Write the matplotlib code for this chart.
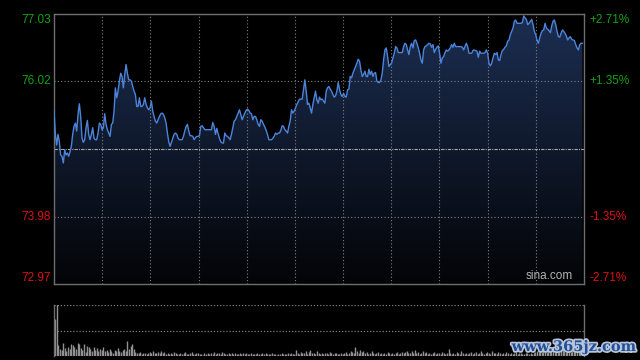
import numpy as np
import matplotlib
matplotlib.use("Agg")
import matplotlib.pyplot as plt
from matplotlib.colors import LinearSegmentedColormap
import matplotlib.patheffects as pe

# session: 330 trading minutes, previous close 75.00
prev_close = 75.00
y_low, y_high = 72.97, 77.03

price = [
    75.59, 75.22, 75.06, 75.22, 75.11, 74.91, 74.89, 74.79, 74.99, 74.91, 74.94, 74.89, 74.96, 75.04,
    75.22, 75.34, 75.39, 75.27, 75.52, 75.68, 75.49, 75.16, 75.10, 75.14, 75.32, 75.43, 75.22, 75.14,
    75.22, 75.32, 75.16, 75.14, 75.14, 75.24, 75.39, 75.37, 75.29, 75.32, 75.53, 75.37, 75.29, 75.24,
    75.19, 75.37, 75.39, 75.57, 75.92, 75.77, 75.87, 76.02, 76.14, 76.09, 75.92, 76.12, 76.27, 76.14,
    76.04, 76.04, 76.02, 75.94, 75.87, 75.82, 75.64, 75.64, 75.77, 75.64, 75.64, 75.67, 75.77, 75.67,
    75.62, 75.59, 75.62, 75.72, 75.57, 75.49, 75.42, 75.39, 75.44, 75.49, 75.53, 75.54, 75.52, 75.47,
    75.39, 75.24, 75.11, 75.04, 75.10, 75.16, 75.22, 75.24, 75.22, 75.16, 75.14, 75.14, 75.14, 75.19,
    75.27, 75.34,
    75.37, 75.27, 75.20, 75.20, 75.19, 75.14, 75.17, 75.19, 75.19, 75.20, 75.34, 75.35, 75.32, 75.29,
    75.29, 75.29, 75.29, 75.29, 75.29, 75.40, 75.34, 75.22, 75.31, 75.23, 75.16, 75.11, 75.09, 75.09,
    75.24, 75.20, 75.19, 75.17, 75.14, 75.22, 75.32, 75.42, 75.44, 75.49, 75.54, 75.59, 75.52, 75.44,
    75.49, 75.54, 75.58, 75.60, 75.58, 75.54, 75.53, 75.44, 75.49, 75.49, 75.44, 75.37, 75.34, 75.44,
    75.42, 75.37, 75.33, 75.28, 75.22, 75.14, 75.14, 75.14, 75.16, 75.19, 75.24, 75.22, 75.24, 75.24,
    75.28, 75.35, 75.34, 75.29, 75.27, 75.24, 75.34, 75.42, 75.59, 75.54, 75.57, 75.62, 75.67, 75.71,
    75.75, 75.75, 75.75, 75.89, 76.04, 75.87, 75.67, 75.69, 75.62, 75.54, 75.67, 75.77, 75.87, 75.74,
    75.69, 75.78, 75.74, 75.75, 75.72, 75.69, 75.87, 75.92, 75.94, 75.90, 75.87, 75.82, 75.78, 75.80,
    75.87, 76.00, 75.89, 75.82, 75.79, 75.84, 75.79, 75.78, 75.89, 75.90, 76.09, 76.07, 76.14, 76.19,
    76.24, 76.29, 76.35, 76.32, 76.19, 76.09, 76.12, 76.17, 76.09, 76.09, 76.20, 76.12, 76.17, 76.09,
    76.14, 76.15, 76.02, 76.00, 76.00, 76.04, 76.14, 76.34, 76.49, 76.52, 76.39, 76.24, 76.27, 76.29,
    76.37, 76.44, 76.54, 76.52, 76.45, 76.45, 76.45, 76.45, 76.54, 76.59, 76.57, 76.49, 76.42, 76.54,
    76.59, 76.52, 76.63, 76.64, 76.59, 76.52, 76.44, 76.34, 76.29, 76.49, 76.54, 76.55, 76.57, 76.59,
    76.58, 76.53, 76.57, 76.45, 76.50, 76.53, 76.55, 76.44, 76.29, 76.37, 76.39, 76.45, 76.49, 76.47,
    76.49, 76.52, 76.57, 76.53, 76.59, 76.54, 76.54, 76.54, 76.54, 76.54, 76.53, 76.49, 76.54, 76.59,
    76.54, 76.44, 76.44, 76.44, 76.48, 76.49, 76.48, 76.47, 76.38, 76.47, 76.44, 76.44, 76.44, 76.45,
    76.49, 76.44, 76.29, 76.25, 76.29, 76.37, 76.44, 76.42, 76.45, 76.34, 76.33, 76.42, 76.48, 76.50,
    76.53, 76.55, 76.62, 76.64, 76.72, 76.77, 76.82, 76.92, 76.94, 76.89, 76.89, 76.89, 76.89, 76.90,
    77.00, 76.97, 76.95, 76.87, 76.89, 76.92, 76.95, 76.87, 76.77, 76.72, 76.64, 76.59, 76.67, 76.74,
    76.78, 76.79, 76.89, 76.82, 76.80, 76.78, 76.75, 76.85, 76.92, 76.94, 76.87, 76.77, 76.69, 76.68,
    76.74, 76.79, 76.77, 76.74, 76.70, 76.64, 76.67, 76.69, 76.65, 76.64, 76.63, 76.57, 76.52, 76.49,
    76.57, 76.59, 76.59,
]

# volume per minute, scaled so that 100 = top of the volume panel
volume = [
    72, 160, 22, 14, 12, 26, 16, 10, 18, 14, 24, 21, 18, 13, 26, 24, 16, 12, 24, 8, 20, 17, 14, 10, 18, 12, 16, 9, 14, 11,
    18, 10, 12, 8, 14, 10, 6, 12, 9, 16, 10, 8, 11, 14, 9, 30, 14, 20, 24, 13, 8, 6, 5, 7, 4, 5, 6, 3, 5, 7,
    6, 9, 5, 6, 8, 5, 10, 6, 7, 4, 5, 3, 6, 4, 7, 5, 3, 4, 6, 3, 5, 8, 4, 3, 5, 7, 3, 4, 6, 5,
    3, 4, 2, 5, 4, 6, 3, 5, 4, 7, 3, 5, 6, 4, 8, 5, 3, 4, 6, 3, 5, 4, 6, 3, 4, 5, 3, 6, 4, 5,
    3, 4, 5, 3, 4, 3, 5, 4, 3, 6, 4, 5, 3, 4, 3, 5, 4, 3, 2, 4, 3, 5, 4, 3, 4, 6, 3, 5, 4, 3,
    12, 5, 4, 8, 5, 6, 10, 4, 7, 12, 5, 6, 4, 9, 5, 3, 6, 4, 5, 6, 4, 7, 5, 4, 6, 5, 4, 3, 6, 4,
    5, 7, 4, 6, 9, 8, 5, 17, 10, 6, 12, 7, 10, 5, 8, 4, 6, 9, 5, 4, 6, 8, 4, 5, 3, 6, 4, 7, 5, 4,
    6, 4, 5, 7, 4, 6, 8, 5, 7, 10, 6, 5, 9, 6, 12, 5, 8, 4, 6, 10, 5, 7, 4, 6, 3, 5, 8, 4, 6, 5,
    4, 7, 5, 3, 6, 13, 5, 4, 6, 3, 7, 5, 4, 10, 6, 4, 5, 3, 6, 8, 4, 5, 7, 4, 6, 9, 5, 4, 6, 8,
    5, 4, 10, 6, 5, 4, 7, 5, 3, 6, 4, 8, 5, 4, 6, 3, 5, 7, 4, 6, 5, 4, 3, 5, 6, 4, 5, 3, 6, 8,
    10, 7, 12, 8, 14, 9, 7, 11, 13, 8, 10, 15, 9, 12, 8, 10, 14, 9, 7, 11, 12, 8, 10, 9, 13, 7, 10, 11, 9, 8,
]

left_ticks = [77.03, 76.02, 73.98, 72.97]
right_labels = ["+2.71%", "+1.35%", "-1.35%", "-2.71%"]
grid_minutes = [30, 60, 90, 120, 150, 180, 210, 240, 270, 300]

GREEN = "#13a313"
RED = "#dd1111"
GRID = "#808080"
EDGE = "#6e6e6e"
FONT = "Liberation Sans"

fig = plt.figure(figsize=(6.4, 3.6), dpi=100, facecolor="black")
ax = fig.add_axes([54 / 640, 1 - 284 / 360, 530 / 640, 270 / 360])
vax = fig.add_axes([54 / 640, 1 - 356 / 360, 530 / 640, 51 / 360])

t = np.linspace(0, 329, len(price))

ax.set_facecolor("black")
ax.set_xlim(0, 330)
ax.set_ylim(y_low, y_high)

# gradient fill under the price line
cmap = LinearSegmentedColormap.from_list("fill", ["#030406", "#1c2e52"])
grad = np.linspace(1, 0, 256).reshape(-1, 1)
im = ax.imshow(grad, extent=[0, 330, y_low, y_high], aspect="auto", cmap=cmap,
               origin="upper", zorder=1)
poly = ax.fill_between(t, price, y_low, color="none", linewidth=0)
im.set_clip_path(poly.get_paths()[0], transform=ax.transData)

# grid
for m in grid_minutes:
    ax.axvline(m, color=GRID, lw=0.8, ls=(0, (1, 2)), zorder=2)
for p in [76.02, 73.98]:
    ax.axhline(p, color=GRID, lw=0.8, ls=(0, (1, 2)), zorder=2)
ax.axhline(prev_close, color="#a8a8a8", lw=0.8, ls=(0, (3, 1, 1, 1)), zorder=2)

ax.plot(t, price, color="#4c84dc", lw=1.0, zorder=3)

for s in ax.spines.values():
    s.set_color(EDGE)
    s.set_linewidth(1)
ax.set_xticks([])
ax.set_yticks([])

ytr = ax.get_yaxis_transform()
for i, (p, lab) in enumerate(zip(left_ticks, right_labels)):
    col = GREEN if p > prev_close else RED
    va = "center"
    if i == 0:
        va = "top"
    elif i == len(left_ticks) - 1:
        va = "bottom"
    ax.text(-0.006, p, f"{p:.2f}", transform=ytr, ha="right", va=va,
            color=col, fontsize=8.5, family=FONT)
    ax.text(1.011, p, lab, transform=ytr, ha="left", va=va,
            color=col, fontsize=8.5, family=FONT)

ax.text(0.979, 0.006, "sina.com", transform=ax.transAxes, ha="right", va="bottom",
        color="#b4b4b4", fontsize=8.5, family=FONT)

# volume panel
vax.set_facecolor("black")
vax.set_xlim(0, 330)
vax.set_ylim(0, 100)
vt = np.arange(len(volume)) + 0.7
vax.vlines(vt, 0, volume, color="#929292", lw=1.0)
for h in [100, 50, 0.5]:
    vax.axhline(h, color=GRID, lw=0.9, ls=(0, (1, 1.5)))
vax.spines["top"].set_visible(False)
vax.spines["bottom"].set_visible(False)
for k in ["left", "right"]:
    vax.spines[k].set_color(EDGE)
    vax.spines[k].set_linewidth(1)
vax.set_xticks([])
vax.set_yticks([])

fig.text(574 / 640, 1 - 347 / 360, "www.365jz.com", ha="center", va="center",
         color="#1f4f9c", fontsize=10.5, fontweight="bold", family="DejaVu Serif",
         path_effects=[pe.withStroke(linewidth=2.5, foreground="#b9c4d6")])

fig.savefig("out.png", dpi=100, facecolor="black")
